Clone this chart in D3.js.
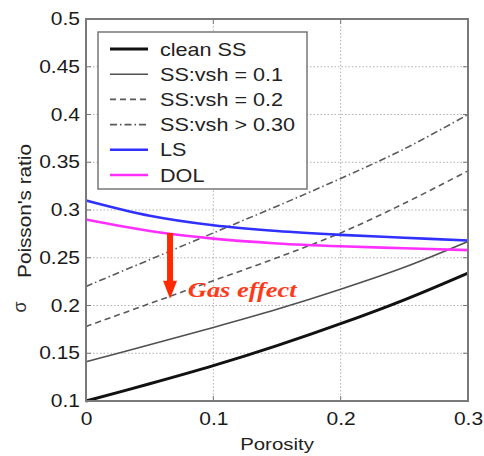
<!DOCTYPE html>
<html>
<head>
<meta charset="utf-8">
<script src="https://cdn.jsdelivr.net/npm/d3@7"></script>
<style>
  body { margin: 0; background: #fff; }
  text { font-family: "Liberation Sans", Arial, sans-serif; fill: #222; }
</style>
</head>
<body>
<div class="chart"></div>
<script>
// values
const porosity = [0, 0.05, 0.1, 0.15, 0.2, 0.25, 0.3]
const cleanSS = [0.100, 0.118, 0.137, 0.158, 0.181, 0.206, 0.234]
const vsh01   = [0.141, 0.159, 0.177, 0.196, 0.217, 0.240, 0.267]
const vsh02   = [0.178, 0.202, 0.226, 0.250, 0.276, 0.307, 0.341]
const vsh03   = [0.220, 0.248, 0.276, 0.304, 0.333, 0.364, 0.400]
const LS      = [0.310, 0.294, 0.284, 0.278, 0.274, 0.271, 0.268]
const DOL     = [0.290, 0.278, 0.270, 0.265, 0.262, 0.260, 0.258]

const seriesNames = ['clean SS', 'SS:vsh = 0.1', 'SS:vsh = 0.2', 'SS:vsh > 0.30', 'LS', 'DOL']
const seriesValues = [cleanSS, vsh01, vsh02, vsh03, LS, DOL]

const xTicks = [0, 0.1, 0.2, 0.3]
const yTicks = [0.1, 0.15, 0.2, 0.25, 0.3, 0.35, 0.4, 0.45, 0.5]

// gas effect arrow: porosity, from sigma, to sigma
const gasArrow = [0.066, 0.276, 0.207]
const gasLabel = [0.08, 0.209]

const styles = [
    { color: '#111', width: 3, dash: null },
    { color: '#505050', width: 1.6, dash: null },
    { color: '#5a5a5a', width: 1.6, dash: '6,4' },
    { color: '#5a5a5a', width: 1.6, dash: '7,3,1.5,3' },
    { color: '#3030ff', width: 2.6, dash: null },
    { color: '#ff30ff', width: 2.6, dash: null }
]

const margin = { top: 19, right: 16, bottom: 55, left: 86 }
const width = 484 - margin.left - margin.right
const height = 456 - margin.top - margin.bottom
const sx = 1.2   // the source text is stretched sideways

const svg = d3.select('.chart')
    .append('svg')
    .attr('width', 484)
    .attr('height', 456)

const g = svg.append('g')
    .attr('transform', `translate(${margin.left},${margin.top})`)

const x = d3.scaleLinear().domain([0, 0.3]).range([0, width])
const y = d3.scaleLinear().domain([0.1, 0.5]).range([height, 0])

// dotted grid
g.append('g').selectAll('line')
    .data(xTicks.slice(1, -1))
    .join('line')
    .attr('x1', d => x(d)).attr('x2', d => x(d))
    .attr('y1', 0).attr('y2', height)
    .style('stroke', '#b0b0b0')
    .style('stroke-dasharray', '1.5,2')

g.append('g').selectAll('line')
    .data(yTicks.slice(1, -1))
    .join('line')
    .attr('x1', 0).attr('x2', width)
    .attr('y1', d => y(d)).attr('y2', d => y(d))
    .style('stroke', '#b0b0b0')
    .style('stroke-dasharray', '1.5,2')

// inward ticks on all four sides
const tk = 5
g.append('g').selectAll('line')
    .data(yTicks)
    .join('line')
    .attr('x1', 0).attr('x2', tk)
    .attr('y1', d => y(d)).attr('y2', d => y(d))
    .style('stroke', '#777')
g.append('g').selectAll('line')
    .data(yTicks)
    .join('line')
    .attr('x1', width - tk).attr('x2', width)
    .attr('y1', d => y(d)).attr('y2', d => y(d))
    .style('stroke', '#777')
g.append('g').selectAll('line')
    .data(xTicks)
    .join('line')
    .attr('x1', d => x(d)).attr('x2', d => x(d))
    .attr('y1', height).attr('y2', height - tk)
    .style('stroke', '#777')
g.append('g').selectAll('line')
    .data(xTicks)
    .join('line')
    .attr('x1', d => x(d)).attr('x2', d => x(d))
    .attr('y1', 0).attr('y2', tk)
    .style('stroke', '#777')

// curves
const line = d3.line()
    .x((d, i) => x(porosity[i]))
    .y(d => y(d))
    .curve(d3.curveCatmullRom)

g.append('g').selectAll('path')
    .data(seriesValues)
    .join('path')
    .attr('d', d => line(d))
    .style('fill', 'none')
    .style('stroke', (d, i) => styles[i].color)
    .style('stroke-width', (d, i) => styles[i].width)
    .style('stroke-dasharray', (d, i) => styles[i].dash)

// frame
g.append('rect')
    .attr('width', width)
    .attr('height', height)
    .style('fill', 'none')
    .style('stroke', '#7a7a7a')
    .style('stroke-width', 2)

// axes (labels only)
const yAxis = g.append('g')
    .call(d3.axisLeft(y).tickValues(yTicks).tickSize(0).tickPadding(6).tickFormat(d => d))
yAxis.select('.domain').remove()
yAxis.selectAll('text')
    .attr('x', -6 / sx)
    .attr('transform', `scale(${sx},1)`)
    .style('font-size', '17.5px')
    .style('font-family', '"Liberation Sans", Arial, sans-serif')
    .style('fill', '#1a1a1a')

const xAxis = g.append('g')
    .attr('transform', `translate(0,${height})`)
    .call(d3.axisBottom(x).tickValues(xTicks).tickSize(0).tickPadding(12).tickFormat(d => d))
xAxis.select('.domain').remove()
xAxis.selectAll('text')
    .attr('transform', `scale(${sx},1)`)
    .style('font-size', '17.5px')
    .style('font-family', '"Liberation Sans", Arial, sans-serif')
    .style('fill', '#1a1a1a')

// axis titles
svg.append('text')
    .attr('transform', `translate(${margin.left + width / 2},450) scale(${sx},1)`)
    .attr('text-anchor', 'middle')
    .style('font-size', '17px')
    .text('Porosity')

svg.append('text')
    .attr('transform', `translate(31,211) rotate(-90) scale(1.15,1)`)
    .attr('text-anchor', 'middle')
    .style('font-size', '18px')
    .text("Poisson's ratio")

svg.append('text')
    .attr('transform', `translate(26,307) rotate(-90)`)
    .attr('text-anchor', 'middle')
    .style('font-size', '18px')
    .style('fill', '#333')
    .text('σ')

// gas effect arrow
const ax = x(gasArrow[0]), ay0 = y(gasArrow[1]), ay1 = y(gasArrow[2])
const headLen = 18, shaft = 3, head = 7
g.append('path')
    .attr('d', `M${ax - shaft},${ay0} L${ax + shaft},${ay0} L${ax + shaft},${ay1 - headLen}
        L${ax + head},${ay1 - headLen} L${ax},${ay1} L${ax - head},${ay1 - headLen}
        L${ax - shaft},${ay1 - headLen} Z`)
    .style('fill', '#ff2a00')

g.append('text')
    .attr('transform', `translate(${x(gasLabel[0])},${y(gasLabel[1])}) scale(${sx},1)`)
    .style('font-family', '"Liberation Serif", "Times New Roman", serif')
    .style('font-weight', 'bold')
    .style('font-style', 'italic')
    .style('font-size', '22px')
    .style('fill', '#ff3a1a')
    .text('Gas effect')

// legend
const legend = svg.append('g').attr('transform', 'translate(98,32)')
legend.append('rect')
    .attr('width', 209)
    .attr('height', 157)
    .style('fill', '#fff')
    .style('stroke', '#777')
    .style('stroke-width', 1.5)

const rows = legend.selectAll('.row')
    .data(seriesNames)
    .join('g')
    .attr('class', 'row')
    .attr('transform', (d, i) => `translate(0,${17 + i * 25.2})`)

rows.append('line')
    .attr('x1', 12).attr('x2', 50)
    .style('stroke', (d, i) => styles[i].color)
    .style('stroke-width', (d, i) => styles[i].width)
    .style('stroke-dasharray', (d, i) => styles[i].dash)

rows.append('text')
    .attr('transform', `translate(62,6.5) scale(${sx},1)`)
    .style('font-size', '18px')
    .text(d => d)
</script>
</body>
</html>
